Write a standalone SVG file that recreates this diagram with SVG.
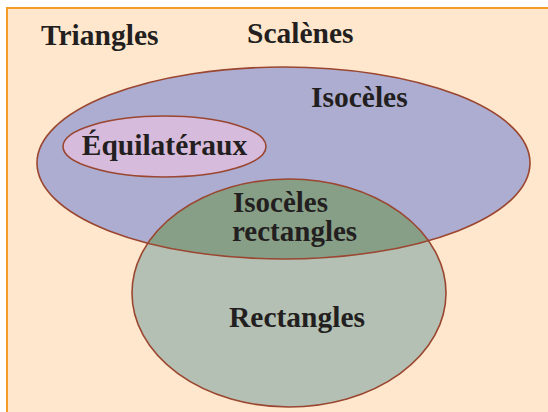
<svg xmlns="http://www.w3.org/2000/svg" width="548" height="412" viewBox="0 0 548 412">
<style>
.lbl{font-family:"Liberation Serif","Times New Roman",serif;font-weight:bold;font-size:29.5px;fill:#231F20}
.edge{fill:none;stroke:#9A4630;stroke-width:1.6}
</style>
<defs>
<clipPath id="clipIso"><ellipse cx="283.5" cy="163" rx="246.5" ry="96"/></clipPath>
</defs>
<rect x="0" y="0" width="548" height="412" fill="#FFFFFF"/>
<g id="triangles">
<rect x="7" y="8" width="560" height="420" fill="#FEE7CC" stroke="#F39C2A" stroke-width="2"/>
<text class="lbl" x="41" y="45">Triangles</text>
</g>
<g id="scalenes">
<text class="lbl" x="247" y="43">Scalènes</text>
</g>
<g id="isoceles">
<ellipse cx="283.5" cy="163" rx="246.5" ry="96" fill="#ACADD0"/>
<text class="lbl" x="311" y="107">Isocèles</text>
</g>
<g id="equilateraux">
<ellipse cx="164.5" cy="146.5" rx="101.5" ry="30.5" class="edge" style="fill:#D7BBDC"/>
<text class="lbl" x="164.5" y="155" text-anchor="middle">Équilatéraux</text>
</g>
<g id="rectangles">
<ellipse cx="289" cy="293" rx="157" ry="114" fill="#B4C0B3"/>
<text class="lbl" x="297" y="327" text-anchor="middle">Rectangles</text>
</g>
<g id="isoceles-rectangles">
<ellipse cx="289" cy="293" rx="157" ry="114" fill="#889F87" clip-path="url(#clipIso)"/>
<text class="lbl" x="233" y="212" style="font-size:29px">Isocèles</text>
<text class="lbl" x="232" y="241" style="font-size:29px">rectangles</text>
</g>
<g id="outlines">
<ellipse class="edge" cx="283.5" cy="163" rx="246.5" ry="96"/>
<ellipse class="edge" cx="289" cy="293" rx="157" ry="114"/>
</g>
<g id="connectors"/>
</svg>
